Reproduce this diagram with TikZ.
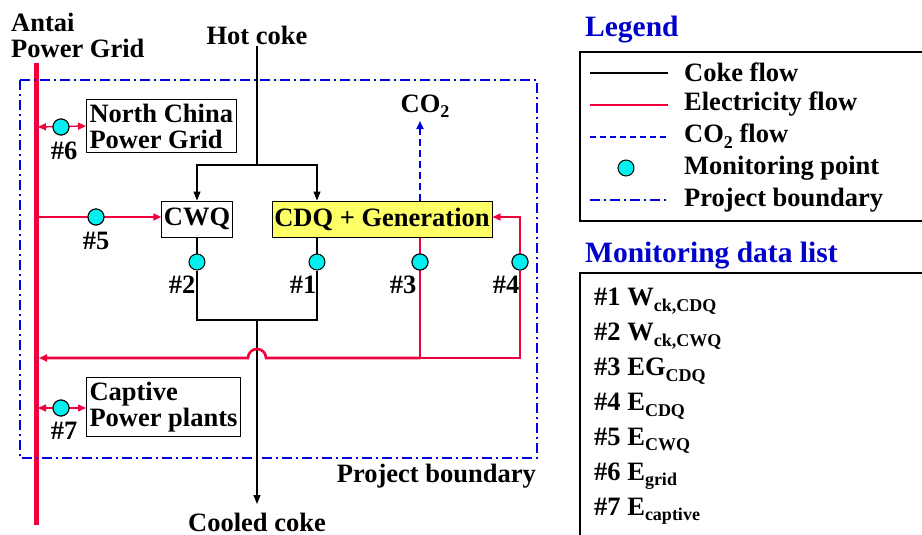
\documentclass[tikz,border=0pt]{standalone}
\usepackage{fontspec}
\setmainfont{Liberation Serif}
\usepackage{tikz}
\usetikzlibrary{arrows.meta, positioning, calc}
\definecolor{elred}{RGB}{240,0,60}
\definecolor{bndblue}{RGB}{0,0,230}
\definecolor{ttlblue}{RGB}{0,0,204}
\definecolor{mpcyan}{RGB}{0,240,240}
\definecolor{boxyellow}{RGB}{255,255,102}
\newcommand{\bigfont}{\bfseries\fontsize{26.5}{26}\selectfont}
\newcommand{\ttlfont}{\bfseries\fontsize{29.5}{30}\selectfont}
\newcommand{\lowtxt}[1]{\raisebox{-0.45ex}{\fontsize{18}{18}\selectfont #1}}
\tikzset{
  unitbox/.style={rectangle, draw=black, fill=white, inner xsep=2pt,
    minimum height=36pt, font=\bigfont, line width=1pt},
  yelbox/.style={unitbox, fill=boxyellow},
  extbox/.style={rectangle, draw=black, fill=white, inner xsep=3pt, inner ysep=4pt,
    align=left, font=\bigfont, line width=1pt},
  lbl/.style={font=\bigfont, inner sep=1pt},
  ttl/.style={font=\ttlfont, text=ttlblue, inner sep=1pt},
  mpoint/.style={circle, draw=black, fill=mpcyan, minimum size=16pt,
    inner sep=0pt, line width=1pt},
  coke/.style={line width=1.3pt, color=black},
  cokearrow/.style={coke, -{Triangle[length=9pt,width=7pt]}},
  elthin/.style={line width=1.4pt, color=elred},
  elthick/.style={line width=2.6pt, color=elred},
  elarrow/.style={-{Triangle[length=8pt,width=7pt]}},
  gridln/.style={line width=5pt, color=elred},
  co2flow/.style={line width=2pt, color=bndblue, dash pattern=on 7pt off 4pt},
  bnd/.style={line width=1.6pt, color=bndblue, dash pattern=on 10pt off 4pt on 2pt off 4pt}
}

\begin{document}
\begin{tikzpicture}[x=1pt, y=-1pt]
  \useasboundingbox (0,0) rectangle (922,535);

  % grid and boundary
  \node[lbl, anchor=west, align=left] (antai) at (10,35) {Antai\\Power Grid};
  \draw[gridln] (36,63) -- (36,525);
  \draw[bnd] (20,80) rectangle (537,458);
  \node[lbl, anchor=east] (bndlbl) at (537,476) {Project boundary};

  % units
  \node[unitbox, minimum width=70pt] (cwq) at (197,219) {CWQ};
  \node[yelbox, minimum width=220pt] (cdq) at (382,219) {CDQ + Generation};
  \node[extbox, anchor=west] (ncpg) at (86,126) {North China\\Power Grid};
  \node[extbox, anchor=west] (cpp) at (86,407) {Captive\\Power plants};

  % coke flow
  \node[lbl] (hot) at (257,35) {Hot coke};
  \node[lbl] (cooled) at (257,522) {Cooled coke};
  \coordinate (split) at (257,165);
  \coordinate (cdqin) at (317,0 |- cdq.north);
  \coordinate (cdqout) at (317,0 |- cdq.south);
  \coordinate (merge) at (257,320);
  \draw[coke] (hot.south) -- (split);
  \draw[cokearrow] (split) -| (cwq.north);
  \draw[cokearrow] (split) -| (cdqin);
  \node[mpoint] (m2) at (197,262) {};
  \node[mpoint] (m1) at (317,262) {};
  \draw[coke] (cwq.south) -- (m2) -- (197,320) -- (317,320) -- (m1) -- (cdqout);
  \draw[cokearrow] (merge) -- (257,504);

  % CO2
  \node[lbl] (co2) at (425,106) {CO\lowtxt{2}};
  \draw[co2flow, -{Triangle[length=8pt,width=7pt]}] (420,0 |- cdq.north) -- (420,121);

  % electricity
  \node[mpoint] (m3) at (420,262) {};
  \node[mpoint] (m4) at (520,262) {};
  \coordinate (cdqel) at (420,0 |- cdq.south);
  \coordinate (ret) at (420,358);
  \draw[elthick] (cdqel) -- (ret);
  \draw[elthin] (ret) -- (520,358) -- (m4);
  \draw[elthin, elarrow] (m4) -- (520,217) -- (cdq.east |- 0,217);
  \draw[elthick, elarrow] (ret) -- (266,358) arc[start angle=0, end angle=-180, radius=9] -- (39,358);
  \foreach \p in {m3,m4} \node[mpoint] at (\p) {};

  \node[mpoint] (m5) at (96,217) {};
  \draw[elthin, elarrow] (38,217) -- (cwq.west |- 0,217);
  \node[mpoint] (m6) at (61,127) {};
  \draw[elthin, {Triangle[length=8pt,width=7pt]}-{Triangle[length=8pt,width=7pt]}] (38,127) -- (ncpg.west);
  \node[mpoint] (m7) at (61,408) {};
  \draw[elthin, {Triangle[length=8pt,width=7pt]}-{Triangle[length=8pt,width=7pt]}] (38,408) -- (cpp.west |- 0,408);
  \foreach \p in {m5,m6,m7} \node[mpoint] at (\p) {};

  % point labels
  \node[lbl] at (64,151) {\#6};
  \node[lbl] at (96,241) {\#5};
  \node[lbl] at (182,285) {\#2};
  \node[lbl] at (303,285) {\#1};
  \node[lbl] at (403,285) {\#3};
  \node[lbl] at (506,285) {\#4};
  \node[lbl] at (64,431) {\#7};

  % legend
  \node[ttl, anchor=west] (legttl) at (584,30) {Legend};
  \draw[line width=1.2pt] (580,52) rectangle (930,221);
  \draw[coke, line width=2pt] (590,73) -- (668,73);
  \draw[elthin] (590,105) -- (668,105);
  \draw[co2flow, line width=1.4pt, dash pattern=on 6pt off 4pt] (590,137) -- (668,137);
  \node[mpoint] (legmp) at (626,168) {};
  \draw[bnd, line width=1.2pt] (590,200) -- (668,200);
  \foreach \y/\txt in {72/{Coke flow},104/{Electricity flow},136/{CO\lowtxt{2} flow},168/{Monitoring point},200/{Project boundary}}
    \node[lbl, anchor=west] at (683,\y) {\txt};

  % monitoring data list
  \node[ttl, anchor=west] (listttl) at (584,256) {Monitoring data list};
  \draw[line width=1.2pt] (580,273) rectangle (930,545);
  \foreach \n/\v/\s in {1/W/{ck,CDQ},2/W/{ck,CWQ},3/EG/CDQ,4/E/CDQ,5/E/CWQ,6/E/grid,7/E/captive}
    \node[lbl, anchor=west] (d\n) at (593,{301+35*(\n-1)}) {\#\n\ \v\lowtxt{\s}};
\end{tikzpicture}
\end{document}
